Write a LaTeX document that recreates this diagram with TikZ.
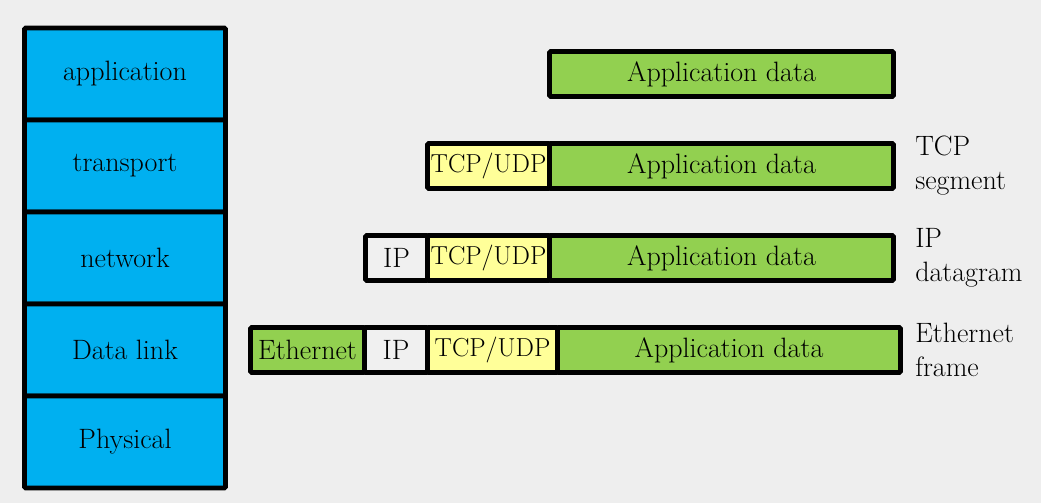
\documentclass[tikz,border=0pt]{standalone}
\usetikzlibrary{positioning}

\definecolor{bgcol}{HTML}{EEEEEE}
\definecolor{layercol}{HTML}{00B0F0}
\definecolor{datacol}{HTML}{92D050}
\definecolor{hdrcol}{HTML}{FFFF99}
\definecolor{ipcol}{HTML}{F0F0F0}

\tikzset{
    every node/.style={font=\fontsize{21}{25.5}\selectfont},
    layer/.style={draw, fill=layercol, line width=3.6pt, rounded corners=1pt,
        minimum width=150.75pt, minimum height=69pt, inner sep=0pt, outer sep=0pt},
    field/.style={draw, line width=3.6pt, rounded corners=1pt,
        minimum height=33.75pt, inner sep=0pt, outer sep=0pt},
    appdata/.style={field, fill=datacol},
    tcphdr/.style={field, fill=hdrcol, font=\fontsize{19.5}{24}\selectfont},
    iphdr/.style={field, fill=ipcol},
    ethhdr/.style={field, fill=datacol},
    pdutag/.style={align=left, anchor=west, inner sep=0pt},
}

\begin{document}
\begin{tikzpicture}[x=0.75pt, y=-0.75pt]

        % background
        \fill[bgcol] (0,0) rectangle (1041,503);

        % protocol stack
        \node[layer] (lapp) at (125,74) {application};
        \node[layer, below=0pt of lapp] (ltrans) {transport};
        \node[layer, below=0pt of ltrans] (lnet) {network};
        \node[layer, below=0pt of lnet] (llink) {Data link};
        \node[layer, below=0pt of llink] (lphy) {Physical};

        % application
        \node[appdata, minimum width=258pt, anchor=west] (app1) at (549.5,0 |- lapp) {Application data};

        % transport
        \node[tcphdr, minimum width=91.5pt, anchor=west] (tcp2) at (427.5,0 |- ltrans) {TCP/UDP};
        \node[appdata, minimum width=258pt, right=0pt of tcp2] (app2) {Application data};
        \node[pdutag] (seg) at (915,0 |- ltrans) {TCP\\segment};

        % network
        \node[iphdr, minimum width=46.5pt, anchor=west] (ip3) at (365.5,0 |- lnet) {IP};
        \node[tcphdr, minimum width=91.5pt, right=0pt of ip3] (tcp3) {TCP/UDP};
        \node[appdata, minimum width=258pt, right=0pt of tcp3] (app3) {Application data};
        \node[pdutag] (dgram) at (915,0 |- lnet) {IP\\datagram};

        % data link
        \node[ethhdr, minimum width=85.5pt, anchor=west] (eth4) at (250.5,0 |- llink) {Ethernet};
        \node[iphdr, minimum width=47.25pt, right=0pt of eth4] (ip4) {IP};
        \node[tcphdr, minimum width=97.5pt, right=0pt of ip4] (tcp4) {TCP/UDP};
        \node[appdata, minimum width=257.25pt, right=0pt of tcp4] (app4) {Application data};
        \node[pdutag] (frame) at (915,0 |- llink) {Ethernet\\frame};

\end{tikzpicture}
\end{document}
